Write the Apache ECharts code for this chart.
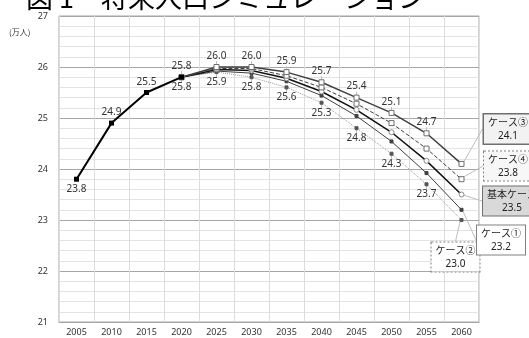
<!DOCTYPE html>
<html>
<head>
<meta charset="utf-8">
<script src="https://cdn.jsdelivr.net/npm/echarts@6/dist/echarts.min.js"></script>
<style>
  html, body { margin: 0; padding: 0; background: #fff; }
  #chart { width: 529px; height: 338px; }
</style>
</head>
<body>
<div id="chart"></div>
<script>
// Years on the horizontal axis
const years = ['2005', '2010', '2015', '2020', '2025', '2030', '2035', '2040', '2045', '2050', '2055', '2060'];

// Observed population (10k persons), 2005-2020
const actual = [23.8, 24.9, 25.5, 25.8, '-', '-', '-', '-', '-', '-', '-', '-'];

// Projection scenarios, 2020-2060
const case3 = ['-', '-', '-', 25.8, 26.0, 26.0, 25.9, 25.7, 25.4, 25.1, 24.7, 24.1];
const case4 = ['-', '-', '-', 25.8, 25.97, 25.97, 25.83, 25.6, 25.28, 24.9, 24.4, 23.8];
const baseCase = ['-', '-', '-', 25.8, 25.95, 25.93, 25.78, 25.52, 25.16, 24.72, 24.16, 23.5];
const case1 = ['-', '-', '-', 25.8, 25.92, 25.88, 25.72, 25.44, 25.04, 24.54, 23.92, 23.2];
const case2 = ['-', '-', '-', 25.8, 25.9, 25.8, 25.6, 25.3, 24.8, 24.3, 23.7, 23.0];

const caseNames = ['ケース③', 'ケース④', '基本ケース', 'ケース①', 'ケース②'];

const FONT = '"Noto Sans", "Noto Sans CJK JP", sans-serif';
const last = years.length - 1;

// Callout box placed at the right end of each scenario line
function endLabel(name, boxStyle) {
  return {
    show: true,
    formatter: p => name + '\n{v|' + Number(p.value).toFixed(1) + '}',
    fontFamily: FONT,
    fontSize: 10,
    color: '#222',
    lineHeight: 13,
    align: 'center',
    padding: [2, 4, 1, 4],
    backgroundColor: boxStyle.bg,
    borderColor: boxStyle.border,
    borderWidth: boxStyle.width,
    borderType: boxStyle.type,
    rich: { v: { fontSize: 10, fontFamily: FONT, color: '#222', lineHeight: 13 } }
  };
}

function scenario(name, data, line, marker, pointLabel, box, boxPos) {
  const items = data.map((v, i) => {
    if (i === last) {
      return { value: v, label: endLabel(name, box) };
    }
    return v;
  });
  return {
    name: name,
    type: 'line',
    data: items,
    symbol: marker.symbol,
    symbolSize: marker.size,
    showAllSymbol: true,
    itemStyle: { color: marker.fill, borderColor: marker.stroke, borderWidth: 1 },
    lineStyle: line,
    label: pointLabel,
    labelLine: { show: true, lineStyle: { color: '#bfbfbf', width: 1 } },
    labelLayout: p => p.dataIndex === last ? { x: boxPos[0], y: boxPos[1], align: 'center', verticalAlign: 'middle', moveOverlap: false } : null,
    z: 3
  };
}

const valueLabel = pos => ({
  show: true,
  position: pos,
  distance: 3,
  fontFamily: FONT,
  fontSize: 10,
  color: '#333',
  formatter: p => (p.dataIndex >= 3 ? Number(p.value).toFixed(1) : '')
});

const chart = echarts.init(document.getElementById('chart'), null, { renderer: 'canvas' });

chart.setOption({
  animation: false,
  backgroundColor: '#fff',
  grid: { left: 59, right: 50, top: 16, bottom: 16, show: true, borderColor: '#a6a6a6', borderWidth: 1 },
  graphic: [
    {
      type: 'text', left: 26, top: -16,
      style: { text: '図 1　将来人口シミュレーション', font: '27px "Noto Sans CJK JP"', fill: '#000' }
    },
    {
      type: 'text', left: 9, top: 28,
      style: { text: '(万人)', font: '8px "Noto Sans CJK JP"', fill: '#333' }
    }
  ],
  xAxis: {
    type: 'category',
    data: years,
    boundaryGap: true,
    axisLine: { show: true, lineStyle: { color: '#a6a6a6' } },
    axisTick: { show: false },
    axisLabel: { fontFamily: FONT, fontSize: 9, color: '#333', margin: 6 },
    splitLine: { show: true, interval: 0, lineStyle: { color: '#dcdcdc', width: 1 } }
  },
  yAxis: {
    type: 'value',
    min: 21,
    max: 27,
    interval: 1,
    axisLine: { show: false },
    axisTick: { show: false },
    axisLabel: { fontFamily: FONT, fontSize: 9, color: '#333', margin: 11 },
    splitLine: { show: true, lineStyle: { color: '#a6a6a6', width: 1 } },
    minorTick: { show: false, splitNumber: 5 },
    minorSplitLine: { show: true, lineStyle: { color: '#e3e3e3', width: 1 } }
  },
  series: [
    scenario(caseNames[4], case2,
      { color: '#9a9a9a', width: 1, type: 'dotted' },
      { symbol: 'rect', size: 3, fill: '#555', stroke: '#555' },
      valueLabel('bottom'),
      { bg: '#fff', border: '#7f7f7f', width: 1, type: 'dotted' }, [455.5, 257]),
    scenario(caseNames[3], case1,
      { color: '#404040', width: 1, type: 'solid' },
      { symbol: 'rect', size: 3, fill: '#404040', stroke: '#404040' },
      { show: false },
      { bg: '#fff', border: '#808080', width: 1, type: 'solid' }, [501, 240]),
    scenario(caseNames[2], baseCase,
      { color: '#111', width: 1.5, type: 'solid' },
      { symbol: 'circle', size: 5, fill: '#fff', stroke: '#8c8c8c' },
      { show: false },
      { bg: '#d9d9d9', border: '#6f6f6f', width: 1, type: 'solid' }, [512, 201]),
    scenario(caseNames[1], case4,
      { color: '#404040', width: 1, type: 'dashed' },
      { symbol: 'rect', size: 5, fill: '#fff', stroke: '#6f6f6f' },
      { show: false },
      { bg: '#f7f7f7', border: '#7f7f7f', width: 1, type: 'dotted' }, [508, 166]),
    scenario(caseNames[0], case3,
      { color: '#404040', width: 1.5, type: 'solid' },
      { symbol: 'rect', size: 5, fill: '#fff', stroke: '#6f6f6f' },
      valueLabel('top'),
      { bg: '#f2f2f2', border: '#6f6f6f', width: 1.5, type: 'solid' }, [508, 129]),
    {
      name: '実績',
      type: 'line',
      data: actual,
      symbol: 'rect',
      symbolSize: 5,
      itemStyle: { color: '#000' },
      lineStyle: { color: '#000', width: 2 },
      label: {
        show: true,
        fontFamily: FONT,
        fontSize: 10,
        color: '#333',
        distance: 3,
        position: 'top',
        formatter: p => (p.dataIndex < 3 ? Number(p.value).toFixed(1) : '')
      },
      labelLayout: p => p.dataIndex === 0 ? { dy: 20 } : null,
      z: 4
    }
  ]
});
</script>
</body>
</html>
